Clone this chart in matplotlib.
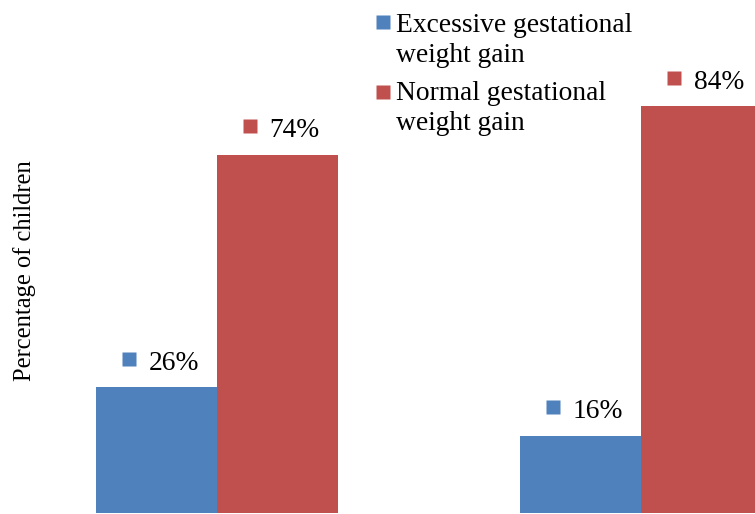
import matplotlib.pyplot as plt
from matplotlib.transforms import offset_copy
import numpy as np

plt.rcParams['font.family'] = ['Liberation Serif', 'DejaVu Serif']

groups = ["Group 1", "Group 2"]
series_names = ["Excessive gestational\nweight gain", "Normal gestational\nweight gain"]
excessive = [26, 16]
normal = [74, 84]
colors = ["#4F81BD", "#C0504D"]

DPI = 72
fig = plt.figure(figsize=(755 / DPI, 514 / DPI), dpi=DPI)
ax = fig.add_axes([0, 0, 1, 1])

x = np.arange(len(groups))
width = 121 / 424
ax.bar(x - width / 2, excessive, width, color=colors[0], label=series_names[0])
ax.bar(x + width / 2, normal, width, color=colors[1], label=series_names[1])

# value labels: small coloured square followed by the percentage
for offset, values, col in [(-width / 2, excessive, colors[0]), (width / 2, normal, colors[1])]:
    for xi, v in zip(x, values):
        xc = xi + offset
        mark_tr = offset_copy(ax.transData, fig=fig, x=-27.5, y=28.5, units='points')
        ax.plot([xc], [v], marker='s', ms=14.5, color=col, mec='none',
                transform=mark_tr, clip_on=False)
        ax.annotate(f"{v}%", (xc, v), xytext=(-8, 17.5), textcoords='offset points',
                    ha='left', va='baseline', fontsize=27.5)

ax.set_xlim(-217 / 424, (755 - 217) / 424)
ax.set_ylim(-0.2, 106)
ax.axis('off')

fig.text(25 / 755, 1 - 271 / 514, "Percentage of children", rotation=90,
         ha='center', va='center', fontsize=24.5)

# legend drawn by hand so the square sits on the first line of each entry
legend_rows = [(22, [32, 62]), (92, [100, 130])]
for (sq_y, baselines), name, col in zip(legend_rows, series_names, colors):
    ax.plot([383 / 755], [1 - sq_y / 514], marker='s', ms=14, color=col, mec='none',
            transform=fig.transFigure, clip_on=False)
    for line, by in zip(name.split("\n"), baselines):
        fig.text(396 / 755, 1 - by / 514, line, ha='left', va='baseline', fontsize=27.5)

fig.savefig("out.png", dpi=DPI)
